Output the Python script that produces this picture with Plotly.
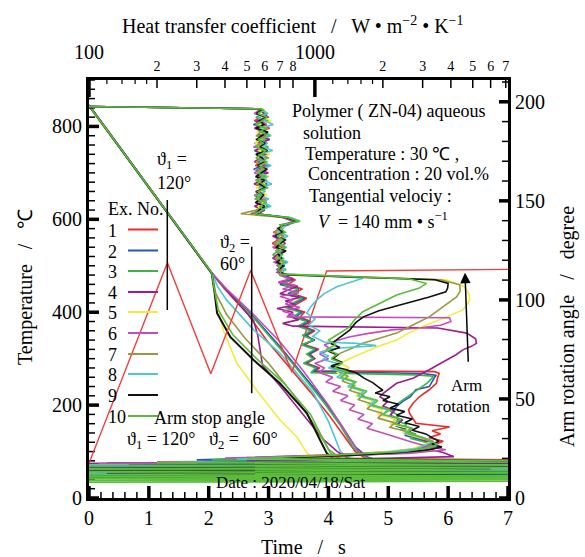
import plotly.graph_objects as go

FONT = "Liberation Serif"

# ---------------- colours / labels ----------------
EX_LABELS = ["1", "2", "3", "4", "5", "6", "7", "8", "9", "10"]
EX_COLORS = ["#ee2a2a", "#2457b8", "#3db34a", "#9b1f8e", "#f2ec3a",
             "#c24fb8", "#9b9640", "#4cc7d6", "#111111", "#5bbd3c"]

# ---------------- temperature vs time (bottom / left axes) ----------------
t_ex1 = [0, 0.5, 1.0, 1.5, 2.05, 2.3, 2.64, 3.0, 3.39, 3.7, 4.0, 4.25, 4.45, 4.7, 5.2, 6.0, 7.0]
T_ex1 = [845, 757, 669, 581, 484, 445, 398, 334, 276, 228, 180, 135, 100, 78, 66, 58, 52]
t_ex2 = [0, 0.5, 1.0, 1.5, 2.05, 2.3, 2.75, 3.19, 3.5, 3.92, 4.2, 4.45, 4.65, 5.0, 6.0, 7.0]
T_ex2 = [845, 757, 669, 581, 484, 448, 390, 326, 278, 211, 160, 110, 88, 74, 62, 55]
t_ex3 = [0, 0.5, 1.0, 1.5, 2.05, 2.3, 2.75, 3.19, 3.5, 3.92, 4.2, 4.42, 4.6, 5.0, 6.0, 7.0]
T_ex3 = [846, 758, 670, 582, 485, 446, 388, 322, 274, 206, 156, 108, 88, 72, 60, 54]
t_ex4 = [0, 0.5, 1.0, 1.5, 2.05, 2.3, 2.75, 2.82, 2.9, 3.2, 3.6, 3.9, 4.15, 4.35, 4.8, 6.0, 7.0]
T_ex4 = [846, 758, 670, 582, 485, 447, 382, 350, 285, 240, 175, 128, 100, 84, 72, 62, 56]
t_ex5 = [0, 0.5, 1.0, 1.5, 2.05, 2.13, 2.24, 2.47, 2.8, 3.19, 3.47, 3.64, 3.8, 4.2, 5.0, 6.0, 7.0]
T_ex5 = [844, 756, 668, 580, 483, 426, 362, 290, 232, 168, 132, 97, 80, 68, 60, 54, 50]
t_ex6 = [0, 0.5, 1.0, 1.5, 2.05, 2.3, 2.75, 3.2, 3.6, 4.0, 4.3, 4.5, 4.7, 5.2, 6.0, 7.0]
T_ex6 = [845, 757, 669, 581, 485, 450, 395, 335, 270, 200, 140, 100, 82, 70, 60, 55]
t_ex7 = [0, 0.5, 1.0, 1.5, 2.05, 2.12, 2.3, 2.6, 3.0, 3.4, 3.75, 4.0, 4.2, 4.6, 5.5, 7.0]
T_ex7 = [845, 757, 669, 581, 484, 440, 395, 345, 290, 225, 160, 105, 85, 72, 62, 55]
t_ex8 = [0, 0.5, 1.0, 1.5, 2.05, 2.15, 2.3, 2.75, 3.19, 3.75, 4.0, 4.2, 4.4, 5.0, 6.0, 7.0]
T_ex8 = [844, 756, 668, 580, 484, 455, 426, 362, 312, 226, 165, 100, 82, 68, 60, 54]
t_ex9 = [0, 0.5, 1.0, 1.5, 2.05, 2.1, 2.14, 2.36, 2.75, 3.19, 3.64, 3.86, 3.97, 4.1, 4.6, 5.5, 7.0]
T_ex9 = [845, 757, 669, 581, 484, 440, 398, 347, 297, 247, 183, 125, 97, 82, 70, 62, 56]
t_ex10 = [0, 0.5, 1.0, 1.5, 2.05, 2.1, 2.16, 2.4, 2.8, 3.25, 3.7, 3.92, 4.03, 4.2, 4.7, 5.5, 7.0]
T_ex10 = [845, 757, 669, 581, 485, 445, 405, 352, 300, 248, 180, 125, 97, 82, 70, 62, 56]

TIME_SERIES = [t_ex1, t_ex2, t_ex3, t_ex4, t_ex5, t_ex6, t_ex7, t_ex8, t_ex9, t_ex10]
TEMP_SERIES = [T_ex1, T_ex2, T_ex3, T_ex4, T_ex5, T_ex6, T_ex7, T_ex8, T_ex9, T_ex10]

# ---------------- heat transfer coefficient vs temperature (top / left axes) ----------------
HTC_START_T = [843, 838]
HTC_START_H = [100, 565]
BAND_T = [836, 828, 820, 812, 804, 796, 788, 780, 772, 764, 756, 748, 740, 732, 724, 716, 708, 700,
          692, 684, 676, 668, 660, 652, 644, 636, 628, 620, 612, 604, 596, 588, 580, 572, 564, 556,
          548, 540, 532, 524, 516, 508, 500, 492, 486]
band_h_ex1 = [565, 612, 572, 540, 598, 630, 560, 592, 548, 615, 580, 553, 606, 568, 592, 545, 618, 560,
              600, 574, 538, 604, 585, 558, 622, 578, 546, 590, 520, 760, 845, 730, 700, 655, 738, 688,
              648, 722, 676, 708, 655, 742, 690, 718, 700]
band_h_ex2 = [590, 548, 620, 575, 535, 605, 585, 552, 628, 570, 598, 540, 585, 612, 560, 590, 536, 604,
              572, 548, 615, 566, 598, 540, 580, 610, 555, 575, 540, 740, 820, 760, 680, 720, 660, 745,
              700, 655, 730, 690, 716, 668, 735, 680, 705]
band_h_ex3 = [575, 602, 548, 628, 580, 545, 612, 570, 596, 540, 622, 585, 550, 598, 575, 628, 552, 590,
              545, 610, 580, 556, 600, 572, 545, 596, 620, 560, 530, 780, 860, 700, 720, 670, 750, 700,
              665, 735, 690, 650, 725, 700, 680, 745, 710]
band_h_ex4 = [560, 595, 620, 552, 585, 540, 608, 575, 630, 560, 590, 548, 615, 580, 540, 600, 570, 622,
              555, 588, 542, 610, 570, 596, 550, 585, 540, 600, 560, 720, 800, 750, 690, 730, 650, 700,
              740, 668, 710, 680, 650, 725, 690, 700, 680]
band_h_ex5 = [600, 560, 585, 640, 570, 598, 552, 620, 578, 545, 602, 560, 632, 575, 598, 560, 590, 548,
              625, 570, 600, 552, 585, 612, 568, 590, 560, 580, 550, 750, 830, 740, 710, 680, 745, 690,
              720, 660, 740, 700, 672, 720, 695, 730, 700]
band_h_ex6 = [570, 540, 598, 582, 612, 548, 580, 604, 560, 590, 535, 610, 568, 590, 552, 612, 575, 540,
              598, 580, 560, 620, 545, 585, 600, 552, 590, 565, 540, 735, 810, 720, 700, 660, 728, 680,
              705, 650, 720, 690, 700, 660, 710, 680, 690]
band_h_ex7 = [585, 610, 560, 595, 545, 620, 575, 552, 600, 575, 548, 595, 570, 625, 548, 580, 605, 560,
              585, 610, 552, 590, 568, 545, 612, 570, 590, 550, 470, 730, 840, 710, 695, 665, 720, 700,
              660, 740, 685, 705, 670, 730, 700, 720, 700]
band_h_ex8 = [580, 620, 560, 600, 655, 575, 598, 640, 560, 612, 590, 650, 568, 602, 578, 640, 585, 560,
              615, 590, 645, 570, 600, 560, 620, 595, 640, 575, 560, 770, 850, 740, 720, 690, 760, 710,
              690, 750, 700, 720, 690, 760, 715, 730, 720]
band_h_ex9 = [585, 552, 608, 570, 595, 548, 620, 580, 555, 602, 570, 618, 548, 585, 600, 558, 612, 575,
              548, 596, 570, 605, 552, 590, 575, 545, 600, 568, 550, 745, 835, 725, 690, 720, 670, 735,
              700, 675, 745, 690, 710, 680, 725, 695, 700]
band_h_ex10 = [595, 560, 615, 585, 550, 600, 572, 628, 560, 590, 552, 605, 580, 548, 616, 570, 595, 558,
               604, 548, 590, 615, 560, 580, 550, 606, 572, 588, 545, 760, 850, 715, 705, 740, 680, 720,
               690, 742, 670, 715, 695, 735, 700, 690, 705]

tail_T_ex1 = [480, 470, 460, 450, 440, 430, 420, 410, 400, 390, 380, 370, 360, 350, 340, 330, 320, 310,
              300, 290, 280, 274, 272, 268, 260, 247, 233, 218, 204, 190, 183, 172, 161, 153, 145, 138,
              130, 122, 115, 108, 100, 93, 87, 82, 78, 75, 72, 69, 66, 63, 60]
tail_h_ex1 = [710, 820, 760, 880, 800, 920, 850, 780, 900, 860, 960, 880, 1000, 920, 980, 900, 1040, 950,
              1000, 920, 1050, 1000, 3400, 3550, 3500, 3450, 3210, 2900, 2720, 2600, 2620, 2700, 2800,
              3950, 3300, 3600, 3200, 3700, 3400, 3000, 2200, 1200, 500, 8000, 200, 8000, 95, 8000, 95,
              8000, 95]
tail_T_ex2 = [480, 470, 460, 450, 440, 430, 420, 410, 400, 390, 380, 370, 360, 350, 340, 330, 320, 310,
              300, 290, 280, 272, 268, 264, 261, 250, 240, 233, 218, 208, 197, 186, 175, 165, 155, 145,
              135, 125, 118, 110, 102, 95, 88, 82, 78, 75, 72, 69, 66, 63, 60, 57]
tail_h_ex2 = [730, 800, 700, 850, 760, 900, 820, 760, 880, 820, 940, 860, 980, 900, 1000, 880, 1020, 940,
              990, 900, 1030, 980, 3000, 3450, 3400, 3300, 3210, 2800, 2650, 2450, 2300, 2200, 2150,
              2400, 2300, 2650, 2500, 2950, 3300, 3500, 3100, 2000, 900, 300, 8000, 120, 8000, 95, 8000,
              95, 8000, 95]
tail_T_ex3 = [480, 470, 460, 450, 440, 430, 420, 410, 400, 390, 380, 370, 360, 350, 340, 330, 320, 310,
              300, 290, 280, 270, 265, 262, 258, 248, 238, 228, 218, 208, 198, 188, 178, 168, 158, 148,
              138, 128, 120, 112, 104, 96, 88, 82, 78, 74, 71, 68, 65, 62, 59, 56, 53, 50, 47, 44, 41]
tail_h_ex3 = [700, 780, 720, 840, 780, 880, 800, 740, 860, 800, 920, 840, 960, 880, 990, 870, 1000, 920,
              980, 890, 1010, 960, 2800, 3350, 3300, 3150, 2950, 2750, 2550, 2400, 2250, 2150, 2350,
              2250, 2550, 2400, 2800, 2650, 3100, 3400, 3200, 2300, 1000, 350, 8000, 95, 8000, 95, 8000,
              95, 8000, 95, 8000, 95, 8000, 95, 8000]
tail_T_ex4 = [480, 472, 464, 456, 448, 440, 432, 424, 416, 408, 400, 392, 384, 376, 370, 366, 355, 343,
              333, 326, 319, 308, 297, 286, 276, 267, 258, 247, 240, 233, 225, 218, 208, 198, 188, 178,
              168, 158, 148, 138, 128, 118, 108, 98, 89, 84, 80, 77, 74, 71, 68, 65, 62, 59]
tail_h_ex4 = [720, 800, 690, 840, 760, 700, 860, 740, 820, 680, 800, 760, 850, 720, 800, 3500, 4700, 5150,
              5190, 4900, 4520, 4200, 3830, 3500, 3210, 2950, 2720, 2300, 2200, 2080, 2000, 1940, 2100,
              2000, 2250, 2150, 2450, 2300, 2700, 2550, 2950, 3250, 3000, 3700, 4120, 1500, 500, 8000,
              100, 8000, 95, 8000, 95, 8000]
tail_T_ex5 = [482, 470, 455, 440, 426, 415, 405, 390, 372, 355, 340, 326, 312, 300, 290, 280, 270, 260,
              250, 240, 230, 220, 210, 200, 190, 180, 170, 160, 150, 140, 130, 122, 114, 106, 98, 90, 84,
              80, 77, 74, 71, 68, 65, 62, 59]
tail_h_ex5 = [690, 3800, 4600, 4800, 4850, 4700, 4520, 3830, 3100, 2600, 2300, 1900, 1630, 1420, 1300,
              1420, 1250, 1380, 1480, 1400, 1600, 1520, 1800, 1700, 2000, 1900, 2300, 2150, 2600, 2450,
              2900, 3300, 3000, 2700, 1900, 1200, 600, 8000, 300, 8000, 100, 8000, 95, 7000, 95]
tail_T_ex6 = [480, 472, 465, 458, 450, 442, 434, 426, 418, 410, 402, 395, 390, 388, 380, 372, 366, 362,
              354, 346, 338, 330, 320, 310, 300, 290, 280, 270, 260, 250, 240, 230, 220, 210, 200, 190,
              180, 170, 160, 150, 140, 130, 120, 112, 104, 96, 90, 86, 82, 78, 74, 71, 68, 65, 62]
tail_h_ex6 = [700, 780, 690, 820, 720, 850, 700, 800, 740, 860, 720, 810, 750, 3950, 4000, 3600, 2900,
              2200, 1700, 1400, 1250, 1100, 1180, 1050, 1150, 1000, 1100, 1050, 1200, 1120, 1300, 1200,
              1400, 1300, 1500, 1420, 1650, 1550, 1800, 1700, 2000, 2300, 2700, 3100, 3800, 2600, 700,
              400, 1800, 8000, 110, 8000, 95, 8000, 95]
tail_T_ex7 = [482, 470, 459, 446, 433, 412, 390, 372, 355, 343, 333, 322, 312, 302, 292, 282, 272, 262,
              252, 242, 232, 222, 212, 202, 192, 182, 172, 162, 152, 142, 132, 124, 116, 108, 100, 92, 86,
              80, 77, 74, 71, 68, 65, 62, 59, 56, 53]
tail_h_ex7 = [700, 3600, 4380, 4400, 4240, 3700, 3210, 2700, 2300, 1900, 1630, 1450, 1300, 1200, 1320,
              1180, 1300, 1400, 1320, 1500, 1420, 1650, 1550, 1800, 1700, 2000, 1900, 2250, 2150, 2600,
              2900, 3200, 3450, 3100, 2600, 1500, 800, 8000, 250, 8000, 95, 8000, 95, 8000, 95, 8000, 95]
tail_T_ex8 = [482, 476, 473, 465, 455, 440, 426, 412, 398, 385, 372, 360, 348, 336, 333, 328, 322, 314,
              306, 298, 290, 280, 270, 260, 250, 240, 230, 220, 210, 200, 190, 180, 170, 160, 150, 140,
              130, 122, 114, 106, 98, 90, 84, 80, 77, 74, 71, 68, 65, 62, 59, 56, 53, 50, 47]
tail_h_ex8 = [710, 1400, 1630, 1450, 1250, 1100, 1017, 960, 920, 1000, 940, 1050, 980, 1100, 1530, 1870,
              1200, 1050, 1150, 1080, 1250, 1150, 1350, 1250, 1500, 1400, 1650, 1550, 1850, 1750, 2100,
              2000, 2400, 2250, 2700, 2500, 3000, 3350, 3100, 2800, 2000, 1000, 450, 8000, 200, 8000, 95,
              8000, 95, 8000, 95, 8000, 95, 8000, 95]
tail_T_ex9 = [480, 470, 462, 452, 444, 433, 424, 415, 403, 390, 378, 362, 350, 340, 332, 324, 316, 308,
              300, 292, 284, 276, 269, 258, 248, 240, 232, 226, 218, 210, 202, 194, 186, 178, 170, 162,
              154, 146, 138, 130, 122, 116, 110, 104, 98, 92, 86, 80, 76, 73, 70, 67, 64, 61, 58, 55, 52,
              49, 46, 43]
tail_h_ex9 = [760, 3400, 3890, 3870, 3800, 3210, 2750, 2300, 1920, 1640, 1520, 1430, 1330, 1250, 1180,
              1290, 1150, 1260, 1200, 1320, 1180, 1380, 1530, 1650, 1810, 1900, 2000, 1850, 2150, 2000,
              2350, 2150, 2500, 2300, 2700, 2500, 2900, 2700, 3100, 3300, 3550, 3300, 3650, 3200, 2400,
              1500, 700, 7900, 300, 8000, 150, 8000, 95, 6000, 95, 8000, 120, 8000, 95, 8000]
tail_T_ex10 = [482, 472, 462, 452, 437, 420, 401, 384, 368, 351, 340, 330, 320, 310, 300, 290, 280, 270,
               260, 250, 240, 230, 220, 210, 200, 190, 180, 170, 160, 150, 140, 130, 122, 115, 108, 100,
               92, 85, 80, 76, 72, 69, 66, 63, 60, 57, 54, 51, 48, 46, 44, 42, 40, 38, 36, 34]
tail_h_ex10 = [700, 2600, 3120, 2900, 2300, 1940, 1630, 1500, 1420, 1250, 1150, 1240, 1120, 1260, 1180,
               1320, 1220, 1400, 1300, 1520, 1450, 1700, 1600, 1900, 1800, 2150, 2000, 2400, 2250, 2700,
               2550, 3000, 3300, 3500, 3200, 2500, 1200, 500, 8000, 200, 8000, 95, 8000, 95, 8000, 95,
               8000, 95, 8000, 95, 8000, 95, 8000, 95, 8000, 95]

BAND_H = [band_h_ex1, band_h_ex2, band_h_ex3, band_h_ex4, band_h_ex5,
          band_h_ex6, band_h_ex7, band_h_ex8, band_h_ex9, band_h_ex10]
TAIL_T = [tail_T_ex1, tail_T_ex2, tail_T_ex3, tail_T_ex4, tail_T_ex5,
          tail_T_ex6, tail_T_ex7, tail_T_ex8, tail_T_ex9, tail_T_ex10]
TAIL_H = [tail_h_ex1, tail_h_ex2, tail_h_ex3, tail_h_ex4, tail_h_ex5,
          tail_h_ex6, tail_h_ex7, tail_h_ex8, tail_h_ex9, tail_h_ex10]

# ---------------- arm rotation angle vs time (bottom / right axes) ----------------
ARM_TIME = [0, 1.31, 2.035, 2.70, 3.39, 3.97, 7.0]
ARM_ANGLE = [17.5, 118.7, 62.7, 114.9, 63.5, 114.6, 115.4]
STOP_TIME = [1.308, 2.718]
STOP_TOP = [150.4, 126.9]
STOP_BOTTOM = [94.9, 52.9]

# ---------------- tick values ----------------
TIME_TICKS = [0, 1, 2, 3, 4, 5, 6, 7]
TEMP_TICKS = [0, 200, 400, 600, 800]
ANGLE_TICKS = [0, 50, 100, 150, 200]
HTC_MAJOR = [100, 1000]
HTC_LABELLED = [200, 300, 400, 500, 600, 700, 800, 2000, 3000, 4000, 5000, 6000, 7000]
HTC_LABELS = ["2", "3", "4", "5", "6", "7", "8", "2", "3", "4", "5", "6", "7"]
HTC_MINOR = [120, 140, 160, 180, 1200, 1400, 1600, 1800]
TIME_MINOR_STEP = 0.2
TEMP_MINOR_STEP = 20
ANGLE_MINOR_STEP = 10

TIME_RANGE = [0, 7]
TEMP_RANGE = [0, 900]
ANGLE_RANGE = [0, 211]
HTC_LOG_RANGE = [2, 3.855]

# ---------------- figure geometry ----------------
W, H = 585, 557
L, R, T, B = 89, 77, 80, 59
PW, PH = W - L - R, H - T - B

fig = go.Figure()

# HTC curves
for k in range(10):
    fig.add_trace(go.Scatter(
        x=HTC_START_H + BAND_H[k] + TAIL_H[k],
        y=HTC_START_T + BAND_T + TAIL_T[k],
        mode="lines", line=dict(color=EX_COLORS[k], width=1.6),
        xaxis="x2", yaxis="y", showlegend=False))

# Temperature curves
for k in range(10):
    fig.add_trace(go.Scatter(
        x=TIME_SERIES[k], y=TEMP_SERIES[k], mode="lines",
        line=dict(color=EX_COLORS[k], width=2.0 if k == 8 else 1.6),
        xaxis="x", yaxis="y", showlegend=False))

# Arm rotation
fig.add_trace(go.Scatter(x=ARM_TIME, y=ARM_ANGLE, mode="lines",
                         line=dict(color="#f03c3c", width=1.4),
                         xaxis="x", yaxis="y2", showlegend=False))
stop_x, stop_y = [], []
for tt, top, bot in zip(STOP_TIME, STOP_TOP, STOP_BOTTOM):
    stop_x += [tt, tt, None]
    stop_y += [top, bot, None]
fig.add_trace(go.Scatter(x=stop_x, y=stop_y, mode="lines",
                         line=dict(color="black", width=1.5),
                         xaxis="x", yaxis="y2", showlegend=False))


# ---------------- inward tick marks (drawn through the axes' own scales) ----------------
def steps(lo, hi, step):
    n = int(round((hi - lo) / step))
    return [round(lo + i * step, 6) for i in range(n + 1)]


def tick_trace(xs, ys, xaxis, yaxis, width):
    fig.add_trace(go.Scatter(x=xs, y=ys, mode="lines", line=dict(color="black", width=width),
                             xaxis=xaxis, yaxis=yaxis, showlegend=False, hoverinfo="skip"))


temp_per_px = (TEMP_RANGE[1] - TEMP_RANGE[0]) / PH
time_per_px = (TIME_RANGE[1] - TIME_RANGE[0]) / PW


def vertical_ticks(vals, length_px, base, direction):
    xs, ys = [], []
    for v in vals:
        xs += [v, v, None]
        ys += [base, base + direction * length_px * temp_per_px, None]
    return xs, ys


def horizontal_ticks(vals, length_px, base, direction):
    xs, ys = [], []
    for v in vals:
        xs += [base, base + direction * length_px * time_per_px, None]
        ys += [v, v, None]
    return xs, ys


# bottom (time)
tick_trace(*vertical_ticks(steps(*TIME_RANGE, TIME_MINOR_STEP), 6, TEMP_RANGE[0], 1), "x", "y", 1.5)
tick_trace(*vertical_ticks(TIME_TICKS, 12, TEMP_RANGE[0], 1), "x", "y", 3.5)
# left (temperature)
tick_trace(*horizontal_ticks(steps(*TEMP_RANGE, TEMP_MINOR_STEP), 6, TIME_RANGE[0], 1), "x", "y", 1.5)
tick_trace(*horizontal_ticks(TEMP_TICKS, 10, TIME_RANGE[0], 1), "x", "y", 3.5)
# right (angle)
tick_trace(*horizontal_ticks(steps(0, 210, ANGLE_MINOR_STEP), 6, TIME_RANGE[1], -1), "x", "y2", 1.5)
tick_trace(*horizontal_ticks(ANGLE_TICKS, 9, TIME_RANGE[1], -1), "x", "y2", 3.5)
# top (heat transfer coefficient, log)
tick_trace(*vertical_ticks(HTC_MINOR, 4, TEMP_RANGE[1], -1), "x2", "y", 1.2)
tick_trace(*vertical_ticks(HTC_LABELLED, 8, TEMP_RANGE[1], -1), "x2", "y", 1.5)
tick_trace(*vertical_ticks(HTC_MAJOR, 17, TEMP_RANGE[1], -1), "x2", "y", 3.5)


# ---------------- text ----------------
def px(xp):
    return (xp - L) / PW


def py(yp):
    return (H - B - yp) / PH


ann = []


def text(s, x, y, size=18, xanchor="center", **kw):
    ann.append(dict(text=s, x=px(x), y=py(y), xref="paper", yref="paper", showarrow=False,
                    xanchor=xanchor, yanchor="middle", font=dict(family=FONT, size=size, color="black"),
                    **kw))


# axis titles
text("Heat transfer coefficient   /   W • m<sup>−2</sup> • K<sup>−1</sup>", 293, 25, size=20)
text("Temperature   /   ℃", 25, 287, size=20, textangle=-90)
text("Arm rotation angle   /   degree", 567, 327, size=20, textangle=-90)
text("Time   /   s", 303, 547, size=20)

# top decade labels
text("100", 89, 52, size=20)
text("1000", 315, 52, size=20)

# info box
text("Polymer ( ZN-04) aqueous", 290, 112, xanchor="left")
text("solution", 301, 133, xanchor="left")
text("Temperature : 30 ℃ ,", 303, 154, xanchor="left")
text("Concentration : 20 vol.%", 306, 174, xanchor="left")
text("Tangential velociy :", 307, 196, xanchor="left")
text("<i>V</i>  = 140 mm • s<sup>−1</sup>", 316, 220, xanchor="left")

text("ϑ<sub>1</sub> =", 172, 160)
text("120°", 174, 183)
text("ϑ<sub>2</sub> =", 235, 243)
text("60°", 232, 264)

text("Ex. No.", 106, 209, xanchor="left")
LEG_Y = [229.5, 250.5, 271, 292, 312, 333, 354, 374, 395, 416]
shapes = []
for lab, col, yy in zip(EX_LABELS, EX_COLORS, LEG_Y):
    text(lab, 106, yy + 1, xanchor="left")
    shapes.append(dict(type="line", xref="paper", yref="paper", x0=px(128), x1=px(158),
                       y0=py(yy), y1=py(yy), line=dict(color=col, width=2)))

text("Arm stop angle", 209, 418)
text("ϑ<sub>1</sub> = 120°   ϑ<sub>2</sub> =   60°", 202, 440)
text("Date : 2020/04/18/Sat", 290, 482, size=17)
text("Arm", 466, 385, size=17)
text("rotation", 463, 406, size=17)

# arm rotation arrow
ann.append(dict(x=px(465), y=py(272.7), ax=3.3, ay=90.6, xref="paper", yref="paper",
                showarrow=True, arrowhead=2, arrowsize=1.4, arrowwidth=1.5, arrowcolor="black",
                text=""))

tickfont = dict(family=FONT, size=20, color="black")
base = dict(showgrid=False, zeroline=False)

fig.update_layout(
    width=W, height=H, margin=dict(l=L, r=R, t=T, b=B),
    paper_bgcolor="white", plot_bgcolor="white", showlegend=False, hovermode=False,
    font=dict(family=FONT, size=18, color="black"),
    annotations=ann, shapes=shapes,
    xaxis=dict(range=TIME_RANGE, tickvals=TIME_TICKS, ticks="", showline=True, linewidth=3,
               linecolor="black", tickfont=tickfont, anchor="y", **base),
    yaxis=dict(range=TEMP_RANGE, tickvals=TEMP_TICKS, ticks="", showline=True, linewidth=3,
               linecolor="black", tickfont=tickfont, anchor="x", **base),
    yaxis2=dict(range=ANGLE_RANGE, tickvals=ANGLE_TICKS, ticks="", showline=True, linewidth=3,
                linecolor="black", tickfont=tickfont, overlaying="y", side="right", anchor="x",
                **base),
    xaxis2=dict(type="log", range=HTC_LOG_RANGE, tickvals=HTC_LABELLED, ticktext=HTC_LABELS,
                ticks="", showline=True, linewidth=3, linecolor="black",
                tickfont=dict(family=FONT, size=14, color="black"), overlaying="x", side="top",
                anchor="y", **base),
)

fig.write_html("out.html")
